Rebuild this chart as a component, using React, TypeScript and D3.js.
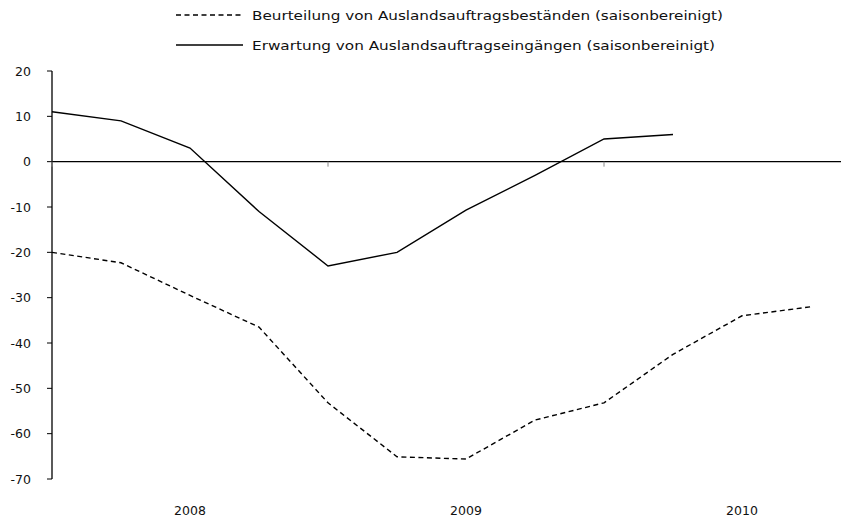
import React from "react";
import * as d3 from "d3";

const categories = ["2008Q1","2008Q2","2008Q3","2008Q4","2009Q1","2009Q2","2009Q3","2009Q4","2010Q1","2010Q2","2010Q3","2010Q4"];
const bestaende = [-20, -22.3, -29.5, -36.5, -53.2, -65.1, -65.6, -57, -53.2, -42.5, -34, -32];
const eingaenge = [11, 9, 3, -11, -23, -20, -10.7, -3, 5, 6];
const yTicks = [20, 10, 0, -10, -20, -30, -40, -50, -60, -70];
const years = ["2008", "2009", "2010"];
const legendLabels = [
  "Beurteilung von Auslandsauftragsbeständen (saisonbereinigt)",
  "Erwartung von Auslandsauftragseingängen (saisonbereinigt)",
];

const W = 841, H = 520;
const FONT = "'DejaVu Sans', sans-serif";

export default function App() {
  const x = d3.scaleLinear().domain([0, 12]).range([52, 880]);
  const y = d3.scaleLinear().domain([20, -70]).range([71, 479]);
  const line = d3.line<number>().x((_, i) => x(i)).y((d) => y(d));
  const textColor = "#111";
  return (
    <svg width={W} height={H} style={{ position: "absolute", left: 0, top: 0 }} fontFamily={FONT}>
      <rect width={W} height={H} fill="#fff" />
      {/* legend */}
      <line x1={176} x2={243} y1={15} y2={15} stroke="#000" strokeWidth={1.3} strokeDasharray="5,3.5" />
      <text x={252} y={19.5} fontSize={13} fill={textColor} textLength={471} lengthAdjust="spacingAndGlyphs">{legendLabels[0]}</text>
      <line x1={176} x2={243} y1={45} y2={45} stroke="#000" strokeWidth={1.3} />
      <text x={252} y={50} fontSize={13} fill={textColor} textLength={463} lengthAdjust="spacingAndGlyphs">{legendLabels[1]}</text>
      {/* y axis */}
      <line x1={52} x2={52} y1={y(20)} y2={y(-70)} stroke="#000" strokeWidth={1.3} />
      {yTicks.map((t) => (
        <g key={t}>
          <line x1={47} x2={52} y1={y(t)} y2={y(t)} stroke="#000" strokeWidth={1} />
          <text x={31} y={y(t) + 4.5} fontSize={12.5} textAnchor="end" fill={textColor}>{t}</text>
        </g>
      ))}
      {/* zero axis */}
      <line x1={52} x2={W} y1={y(0)} y2={y(0)} stroke="#000" strokeWidth={1.3} />
      {[0, 4, 8, 12].map((i) => (
        <line key={i} x1={x(i)} x2={x(i)} y1={y(0)} y2={y(0) + 5} stroke="#888" strokeWidth={1} />
      ))}
      {years.map((yr, k) => (
        <text key={yr} x={x(k * 4 + 2)} y={515} fontSize={12.5} textAnchor="middle" fill={textColor}>{yr}</text>
      ))}
      {/* series */}
      <path d={line(bestaende) || ""} fill="none" stroke="#000" strokeWidth={1.4} strokeDasharray="5,3.5" />
      <path d={line(eingaenge) || ""} fill="none" stroke="#000" strokeWidth={1.4} />
      <title>{categories.join(",")}</title>
    </svg>
  );
}
